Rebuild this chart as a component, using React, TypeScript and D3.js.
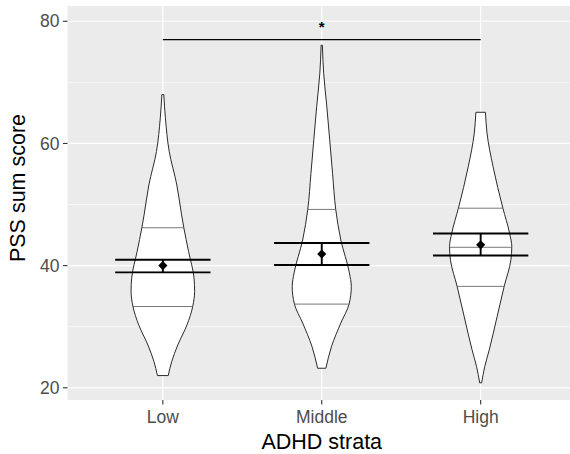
import React from "react";
import * as d3 from "d3";

const strata = ["Low", "Middle", "High"];
const yTicks = [20, 40, 60, 80];
const yMinorTicks = [30, 50, 70];

// violin outlines: [score, relative density]
const lowDensity: [number, number][] = [
  [22.0, 0.17], [24.3, 0.28], [27.0, 0.47], [30.3, 0.76], [33.3, 0.94], [35.8, 1.0],
  [38.0, 0.98], [42.3, 0.81], [46.2, 0.66], [48.3, 0.59], [53.2, 0.44], [58.7, 0.2],
  [64.2, 0.08], [68.0, 0.03],
];
const middleDensity: [number, number][] = [
  [23.2, 0.13], [26.8, 0.31], [30.6, 0.6], [33.7, 0.86], [36.6, 0.93], [38.8, 0.87],
  [44.2, 0.6], [49.2, 0.44], [55.1, 0.34], [60.6, 0.25], [66.0, 0.16], [71.5, 0.06],
  [76.1, 0.02],
];
const highDensity: [number, number][] = [
  [20.8, 0.03], [23.5, 0.13], [26.2, 0.27], [31.7, 0.52], [36.6, 0.74], [40.9, 0.95],
  [43.1, 0.98], [45.3, 0.91], [49.4, 0.7], [56.2, 0.39], [61.7, 0.2], [65.1, 0.15],
];
const densities = [lowDensity, middleDensity, highDensity];

// 25%, 50%, 75% lines
const quartiles = [
  [33.3, 38.9, 46.2],
  [33.7, 40.1, 49.2],
  [36.6, 43.0, 49.4],
];
const means = [40.0, 41.9, 43.4];
const ciLower = [38.9, 40.1, 41.65];
const ciUpper = [40.95, 43.7, 45.25];

const sigFrom = "Low";
const sigTo = "High";
const sigValue = 77.0;
const sigLabel = "*";

export default function App() {
  const width = 570, height = 454;
  const panel = { left: 67.5, top: 6, right: 576, bottom: 400 };

  const x = d3.scalePoint<string>().domain(strata).range([panel.left, panel.right]).padding(0.6);
  const step = x.step();
  const y = d3.scaleLinear().domain([18.0, 82.5]).range([panel.bottom, panel.top]);
  const w = d3.scaleLinear().domain([0, 1]).range([0, step * 0.2]);

  const font = "'Liberation Sans', Arial, Helvetica, sans-serif";
  const diamond = d3.symbol().type(d3.symbolSquare).size(42)();

  return (
    <div style={{ position: "absolute", left: 0, top: 0 }}>
      <svg width={width} height={height} style={{ display: "block", background: "#fff" }}>
        <rect x={panel.left} y={panel.top} width={panel.right - panel.left} height={panel.bottom - panel.top} fill="#EBEBEB" />
        {yMinorTicks.map((t) => (
          <line key={"mn" + t} x1={panel.left} x2={panel.right} y1={y(t)} y2={y(t)} stroke="#fff" strokeWidth={0.6} />
        ))}
        {yTicks.map((t) => (
          <line key={"mj" + t} x1={panel.left} x2={panel.right} y1={y(t)} y2={y(t)} stroke="#fff" strokeWidth={1.2} />
        ))}
        {strata.map((s) => (
          <line key={"vx" + s} x1={x(s)} x2={x(s)} y1={panel.top} y2={panel.bottom} stroke="#fff" strokeWidth={1.2} />
        ))}

        {strata.map((s, i) => {
          const cx = x(s)!;
          const data = densities[i];
          const area = d3.area<[number, number]>()
            .curve(d3.curveMonotoneY)
            .y((d) => y(d[0]))
            .x0((d) => cx - w(d[1]))
            .x1((d) => cx + w(d[1]));
          const interp = d3.scaleLinear().domain(data.map((d) => d[0])).range(data.map((d) => d[1]));
          return (
            <g key={"v" + s}>
              <path d={area(data) || ""} fill="#fff" stroke="#2b2b2b" strokeWidth={1} />
              {quartiles[i].map((q, j) => (
                <line key={j} x1={cx - w(interp(q))} x2={cx + w(interp(q))} y1={y(q)} y2={y(q)} stroke="#555" strokeWidth={0.8} />
              ))}
            </g>
          );
        })}

        {strata.map((s, i) => {
          const cx = x(s)!;
          const cap = step * 0.3;
          return (
            <g key={"e" + s} stroke="#000" strokeWidth={1.9}>
              <line x1={cx} x2={cx} y1={y(ciLower[i])} y2={y(ciUpper[i])} />
              <line x1={cx - cap} x2={cx + cap} y1={y(ciLower[i])} y2={y(ciLower[i])} />
              <line x1={cx - cap} x2={cx + cap} y1={y(ciUpper[i])} y2={y(ciUpper[i])} />
              <path d={diamond} transform={`translate(${cx},${y(means[i])}) rotate(45)`} fill="#000" stroke="none" />
            </g>
          );
        })}

        <line x1={x(sigFrom)} x2={x(sigTo)} y1={y(sigValue)} y2={y(sigValue)} stroke="#000" strokeWidth={1.4} />
        <text x={(x(sigFrom)! + x(sigTo)!) / 2} y={y(sigValue + 1.2)} textAnchor="middle" fontFamily={font} fontSize={15} fontWeight="bold">
          {sigLabel}
        </text>

        {yTicks.map((t) => (
          <g key={"yt" + t}>
            <line x1={panel.left - 4.5} x2={panel.left} y1={y(t)} y2={y(t)} stroke="#333" strokeWidth={1.1} />
            <text x={panel.left - 8} y={y(t)} dy="0.35em" textAnchor="end" fontFamily={font} fontSize={17.5} fill="#4D4D4D">
              {t}
            </text>
          </g>
        ))}
        {strata.map((s) => (
          <g key={"xt" + s}>
            <line x1={x(s)} x2={x(s)} y1={panel.bottom} y2={panel.bottom + 4.5} stroke="#333" strokeWidth={1.1} />
            <text x={x(s)} y={panel.bottom + 23} textAnchor="middle" fontFamily={font} fontSize={17.5} fill="#4D4D4D">
              {s}
            </text>
          </g>
        ))}

        <text x={(panel.left + panel.right) / 2} y={449} textAnchor="middle" fontFamily={font} fontSize={21.5} fill="#000">
          ADHD strata
        </text>
        <text transform="translate(25,188) rotate(-90)" textAnchor="middle" fontFamily={font} fontSize={21.5} fill="#000">
          PSS sum score
        </text>
      </svg>
    </div>
  );
}
